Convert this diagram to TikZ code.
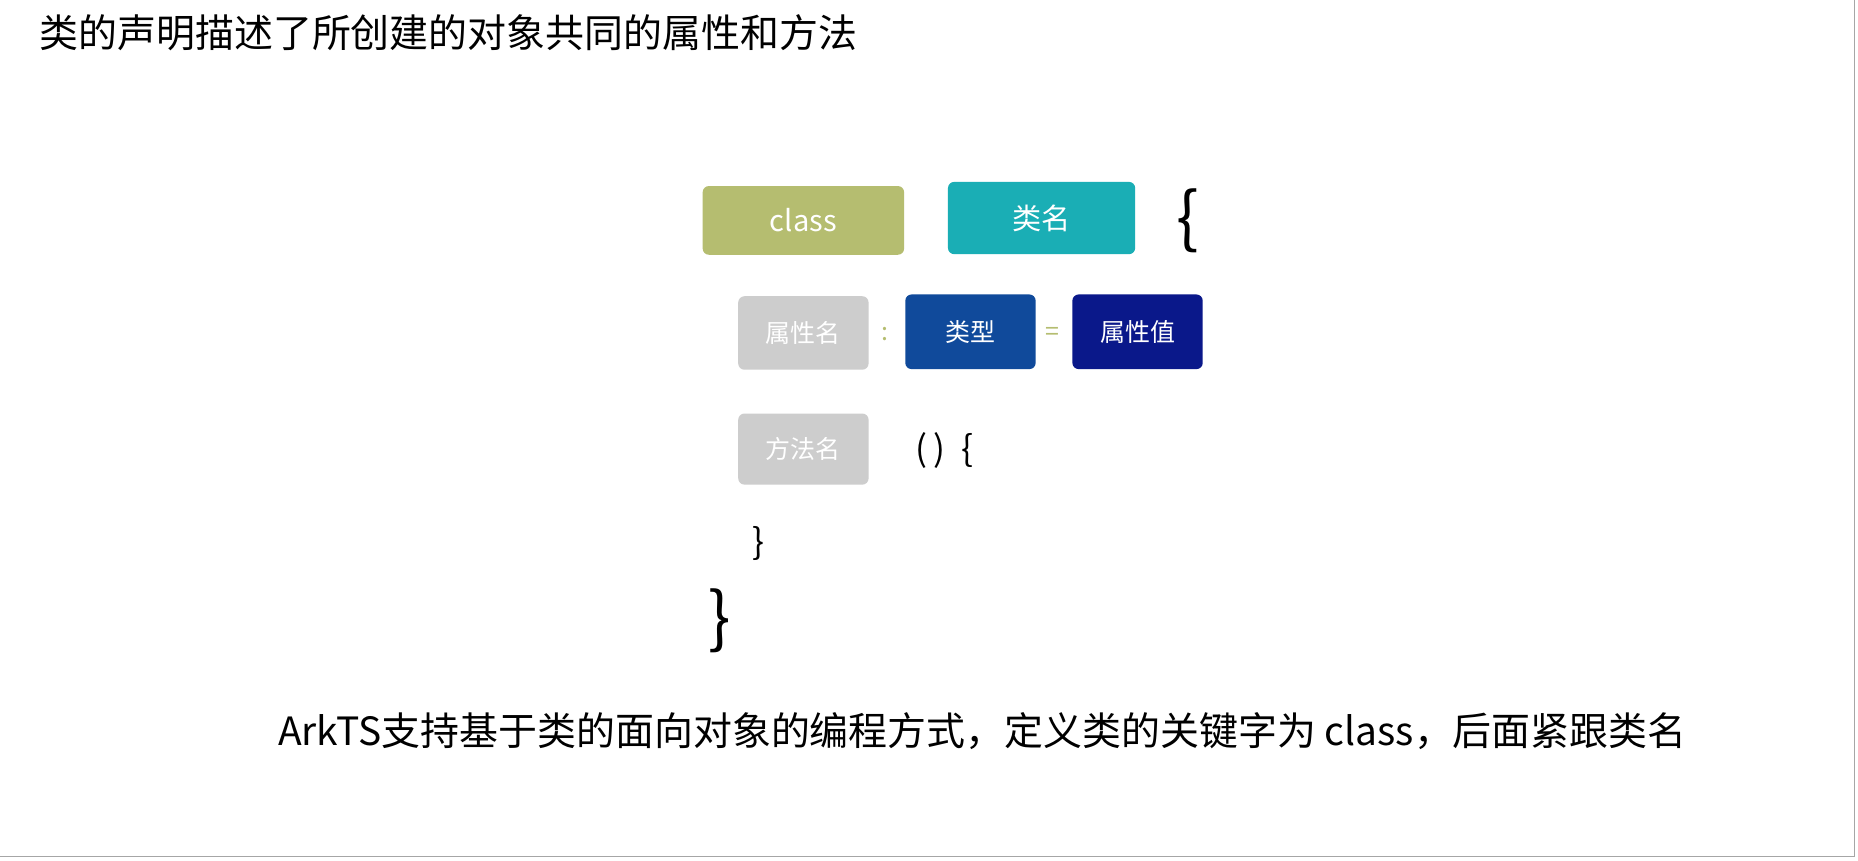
\documentclass[tikz,border=0pt]{standalone}
\usepackage{fontspec}
\setmainfont{Noto Sans CJK SC}
\begin{document}
\begin{tikzpicture}[x=0.02cm,y=-0.02cm,
  box/.style={rounded corners=3pt,text=white,inner sep=0pt},
  lbl/.style={inner sep=0pt}]
\useasboundingbox (0,0) rectangle (1568,726);
\fill[white] (0,0) rectangle (1568,726);
\draw[gray!70,line width=0.6pt] (1565,0) -- (1565,723) -- (0,723);
\node[lbl,anchor=west,font=\fontsize{18.7}{20}\selectfont] (title) at (33,28) {类的声明描述了所创建的对象共同的属性和方法};
\node[box,fill={rgb,255:red,181;green,189;blue,112},minimum width=170*0.02cm,minimum height=58*0.02cm,font=\fontsize{14}{16}\selectfont] (cls) at (678,186) {class};
\node[box,fill={rgb,255:red,26;green,174;blue,181},minimum width=158*0.02cm,minimum height=61*0.02cm,font=\fontsize{14}{16}\selectfont] (cname) at (879,184) {类名};
\node[lbl,font=\fontsize{32}{34}\selectfont] (lb) at (1002,186) {\{};
\node[box,fill={rgb,255:red,205;green,205;blue,205},minimum width=110*0.02cm,minimum height=62*0.02cm,font=\fontsize{12}{14}\selectfont] (pname) at (678,281) {属性名};
\node[lbl,text={rgb,255:red,181;green,189;blue,112},font=\fontsize{12}{14}\selectfont] (colon) at (747,282) {:};
\node[box,fill={rgb,255:red,16;green,74;blue,155},minimum width=110*0.02cm,minimum height=63*0.02cm,font=\fontsize{12}{14}\selectfont] (ptype) at (819,280) {类型};
\node[lbl,text={rgb,255:red,181;green,189;blue,112},font=\fontsize{12}{14}\selectfont] (eq) at (888,282) {=};
\node[box,fill={rgb,255:red,10;green,24;blue,138},minimum width=110*0.02cm,minimum height=63*0.02cm,font=\fontsize{12}{14}\selectfont] (pval) at (960,280) {属性值};
\node[box,fill={rgb,255:red,205;green,205;blue,205},minimum width=110*0.02cm,minimum height=60*0.02cm,font=\fontsize{12}{14}\selectfont] (mname) at (678,379) {方法名};
\node[lbl,font=\fontsize{17}{19}\selectfont] (paren) at (797,380) {(\hspace{3pt})\hspace{8pt}\{};
\node[lbl,font=\fontsize{17}{19}\selectfont] (rb1) at (640,459) {\}};
\node[lbl,font=\fontsize{32}{34}\selectfont] (rb2) at (607,524) {\}};
\node[lbl,font=\fontsize{18.7}{20}\selectfont] (foot) at (829,617) {ArkTS支持基于类的面向对象的编程方式，定义类的关键字为 class，后面紧跟类名};
\end{tikzpicture}
\end{document}
